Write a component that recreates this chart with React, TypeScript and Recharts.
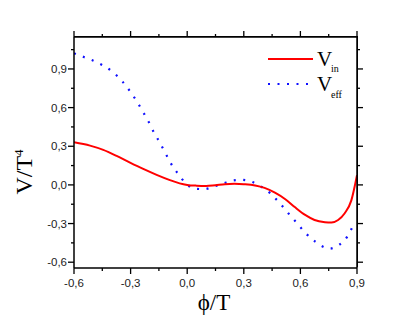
import { LineChart, Line, XAxis, YAxis } from 'recharts'

// V_in (solid red)
const phiIn = [-0.6, -0.515, -0.445, -0.374, -0.303, -0.233, -0.162, -0.095, -0.04, 0.0, 0.05, 0.1, 0.15, 0.2, 0.25, 0.3, 0.36, 0.41, 0.465, 0.52, 0.57, 0.625, 0.675, 0.73, 0.765, 0.8, 0.835, 0.87, 0.9]
const vIn = [0.331, 0.305, 0.272, 0.225, 0.173, 0.124, 0.078, 0.039, 0.012, 0.0, -0.006, -0.008, -0.002, 0.005, 0.008, 0.005, -0.004, -0.023, -0.06, -0.111, -0.172, -0.233, -0.272, -0.289, -0.292, -0.272, -0.22, -0.12, 0.075]

// V_eff (blue dotted)
const phiEff = [-0.6, -0.545, -0.498, -0.445, -0.395, -0.344, -0.302, -0.266, -0.234, -0.204, -0.176, -0.146, -0.118, -0.091, -0.052, -0.011, 0.038, 0.091, 0.139, 0.19, 0.239, 0.289, 0.338, 0.386, 0.439, 0.488, 0.536, 0.582, 0.628, 0.679, 0.729, 0.755, 0.78, 0.806, 0.851, 0.88]
const vEff = [1.022, 0.991, 0.964, 0.926, 0.877, 0.804, 0.724, 0.646, 0.566, 0.489, 0.406, 0.331, 0.254, 0.178, 0.093, 0.018, -0.029, -0.033, -0.013, 0.01, 0.033, 0.039, 0.026, -0.008, -0.064, -0.137, -0.22, -0.297, -0.375, -0.44, -0.486, -0.495, -0.486, -0.465, -0.396, -0.313]

const xTicks = [-0.6, -0.45, -0.3, -0.15, 0, 0.15, 0.3, 0.45, 0.6, 0.75, 0.9]
const yTicks = [-0.6, -0.45, -0.3, -0.15, 0, 0.15, 0.3, 0.45, 0.6, 0.75, 0.9, 1.05]
const majorTicks = [-0.6, -0.3, 0, 0.3, 0.6, 0.9]

const inData = phiIn.map((x, i) => ({ x, v: vIn[i] }))
const effData = phiEff.map((x, i) => ({ x, v: vEff[i] }))

const W = 415, H = 321
const LEFT = 74, RIGHT = 357, TOP = 37, BOTTOM = 268
const MAJOR = 6, MINOR = 3
const X_DOMAIN = [-0.6, 0.9]
const Y_DOMAIN = [-0.645, 1.148]

const isMajor = (v: number) => majorTicks.some(m => Math.abs(m - v) < 1e-6)
const fmt = (v: number) => (Math.abs(v) < 1e-9 ? 0 : v).toFixed(1).replace('.', ',')
const tickFont = { fontFamily: '"Liberation Sans", Arial, sans-serif', fontSize: 11.5, fill: '#222' }

// same linear mapping as the chart's axes, used for the mirrored top/right frame ticks
const sx = (v: number) => LEFT + (v - X_DOMAIN[0]) / (X_DOMAIN[1] - X_DOMAIN[0]) * (RIGHT - LEFT)
const sy = (v: number) => BOTTOM - (v - Y_DOMAIN[0]) / (Y_DOMAIN[1] - Y_DOMAIN[0]) * (BOTTOM - TOP)

function tickFor(side: 'bottom' | 'left') {
  return (props: any) => {
    const value = props.payload.value
    const c = props.payload.coordinate
    const len = isMajor(value) ? MAJOR : MINOR
    if (side === 'bottom') return (
      <g>
        <line x1={c} x2={c} y1={BOTTOM} y2={BOTTOM + len} stroke="#000" strokeWidth={1.3} />
        {isMajor(value) && <text x={c} y={287} textAnchor="middle" {...tickFont}>{fmt(value)}</text>}
      </g>
    )
    return (
      <g>
        <line x1={LEFT - len} x2={LEFT} y1={c} y2={c} stroke="#000" strokeWidth={1.3} />
        {isMajor(value) && <text x={67} y={c} dy="0.36em" textAnchor="end" {...tickFont}>{fmt(value)}</text>}
      </g>
    )
  }
}

const serif = '"Liberation Serif", "Times New Roman", serif'
const frame = { stroke: '#000', strokeWidth: 1.5 }

export default function App() {
  return (
    <div style={{ position: 'absolute', left: 0, top: 0, width: W, height: H, background: '#fff' }}>
      <LineChart width={W} height={H} margin={{ top: TOP, right: W - RIGHT, bottom: 0, left: 0 }}>
        <XAxis xAxisId="b" type="number" dataKey="x" domain={X_DOMAIN} ticks={xTicks} allowDataOverflow
          height={H - BOTTOM} tickLine={false} tick={tickFor('bottom')} interval={0} axisLine={frame} />
        <YAxis yAxisId="l" type="number" domain={Y_DOMAIN} ticks={yTicks} allowDataOverflow
          width={LEFT} tickLine={false} tick={tickFor('left')} interval={0} axisLine={frame} />
        <Line xAxisId="b" yAxisId="l" data={effData} dataKey="v" type="monotone" stroke="#1010ff"
          strokeWidth={2.2} strokeDasharray="2 7.5" dot={false} isAnimationActive={false} />
        <Line xAxisId="b" yAxisId="l" data={inData} dataKey="v" type="monotone" stroke="#ff0000"
          strokeWidth={2} dot={false} isAnimationActive={false} />
      </LineChart>
      {/* top / right frame edges */}
      <div style={{
        position: 'absolute', left: LEFT, top: TOP - 0.75, width: RIGHT - LEFT + 0.75, height: BOTTOM - TOP,
        borderTop: '1.5px solid #000', borderRight: '1.5px solid #000', boxSizing: 'border-box', pointerEvents: 'none',
      }} />
      <svg width={W} height={H} style={{ position: 'absolute', left: 0, top: 0, pointerEvents: 'none' }}>
        <path d={`M${LEFT},${TOP}H${RIGHT}V${BOTTOM}`} fill="none" stroke="#000" strokeWidth={1.5} />
        {xTicks.map(v => (
          <line key={'t' + v} x1={sx(v)} x2={sx(v)} y1={TOP} y2={TOP - (isMajor(v) ? MAJOR : MINOR)} stroke="#000" strokeWidth={1.3} />
        ))}
        {yTicks.map(v => (
          <line key={'r' + v} x1={RIGHT} x2={RIGHT + (isMajor(v) ? MAJOR : MINOR)} y1={sy(v)} y2={sy(v)} stroke="#000" strokeWidth={1.3} />
        ))}
        {/* legend */}
        <line x1={268} x2={313} y1={59} y2={59} stroke="#ff0000" strokeWidth={2} />
        <text x={317} y={66} fontFamily={serif} fontSize={21} fill="#000">V</text>
        <text x={331} y={72} fontFamily={serif} fontSize={10} fill="#000">in</text>
        <line x1={268} x2={312} y1={84} y2={84} stroke="#1010ff" strokeWidth={2.2} strokeDasharray="2 7.5" />
        <text x={317} y={91} fontFamily={serif} fontSize={21} fill="#000">V</text>
        <text x={331} y={98} fontFamily={serif} fontSize={10} fill="#000">eff</text>
        {/* axis titles */}
        <text x={214} y={310} textAnchor="middle" fontFamily={serif} fontSize={23} fill="#000">ϕ/T</text>
        <g transform="translate(32,172) rotate(-90)">
          <text x={0} y={0} textAnchor="middle" fontFamily={serif} fontSize={24} fill="#000">
            V/T<tspan dy={-9} fontSize={13}>4</tspan>
          </text>
        </g>
      </svg>
    </div>
  )
}
